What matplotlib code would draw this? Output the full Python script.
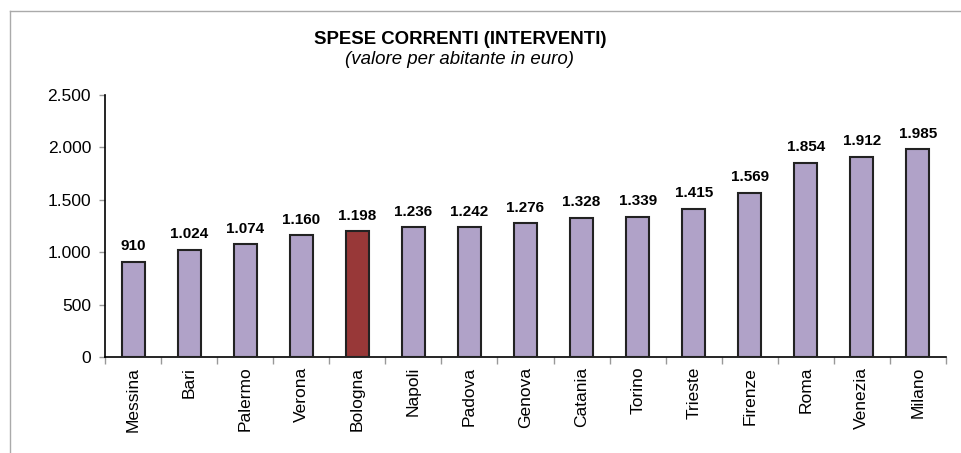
import matplotlib
matplotlib.use("Agg")
import matplotlib.pyplot as plt
from matplotlib.lines import Line2D

cities = ["Messina", "Bari", "Palermo", "Verona", "Bologna", "Napoli", "Padova",
          "Genova", "Catania", "Torino", "Trieste", "Firenze", "Roma", "Venezia", "Milano"]
values = [910, 1024, 1074, 1160, 1198, 1236, 1242, 1276, 1328, 1339, 1415, 1569, 1854, 1912, 1985]
highlight = "Bologna"
yticks = [0, 500, 1000, 1500, 2000, 2500]

plt.rcParams['font.family'] = ['Liberation Sans', 'DejaVu Sans']

fig = plt.figure(figsize=(9.62, 4.53), dpi=100)
ax = fig.add_axes([105/962, 1 - 357/453, (946-105)/962, (357-95)/453])

colors = ["#983838" if c == highlight else "#b0a2c8" for c in cities]
x = list(range(len(cities)))
bars = ax.bar(x, values, width=0.41, color=colors, edgecolor="#222222", linewidth=1.5, zorder=3)

def fmt(v):
    return f"{v:,}".replace(",", ".")

for xi, v in zip(x, values):
    ax.annotate(fmt(v), (xi, v), xytext=(0, 6), textcoords="offset points",
                ha="center", va="bottom", fontsize=11, fontweight="bold")

ax.set_xlim(-0.5, len(cities) - 0.5)
ax.set_ylim(0, 2500)
ax.set_yticks(yticks)
ax.set_yticklabels([fmt(t) for t in yticks], fontsize=12.5)
ax.set_xticks(x)
ax.set_xticklabels(cities, rotation=90, fontsize=12.5)
ax.tick_params(axis="x", length=0, pad=7)
ax.set_xticks([i - 0.5 for i in range(len(cities) + 1)], minor=True)
ax.tick_params(axis="x", which="minor", length=5, color="#999999", width=1)
ax.tick_params(axis="y", length=4, color="#999999", width=1, pad=6)

for s in ["top", "right"]:
    ax.spines[s].set_visible(False)
ax.spines["left"].set_linewidth(1.2)
ax.spines["bottom"].set_linewidth(1.2)

fig.text(460/962, 1 - 40/453, "SPESE CORRENTI (INTERVENTI)", ha="center", va="center",
         fontsize=13.4, fontweight="bold")
fig.text(460/962, 1 - 60/453, "(valore per abitante in euro)", ha="center", va="center",
         fontsize=13.4, style="italic")

# outer frame lines
fig.add_artist(Line2D([9.5/962, 9.5/962], [0, 1 - 10.5/453], color="#aaaaaa", linewidth=1,
                      transform=fig.transFigure))
fig.add_artist(Line2D([9.5/962, 1], [1 - 10.5/453, 1 - 10.5/453], color="#aaaaaa", linewidth=1,
                      transform=fig.transFigure))

fig.savefig("out.png", dpi=100)
